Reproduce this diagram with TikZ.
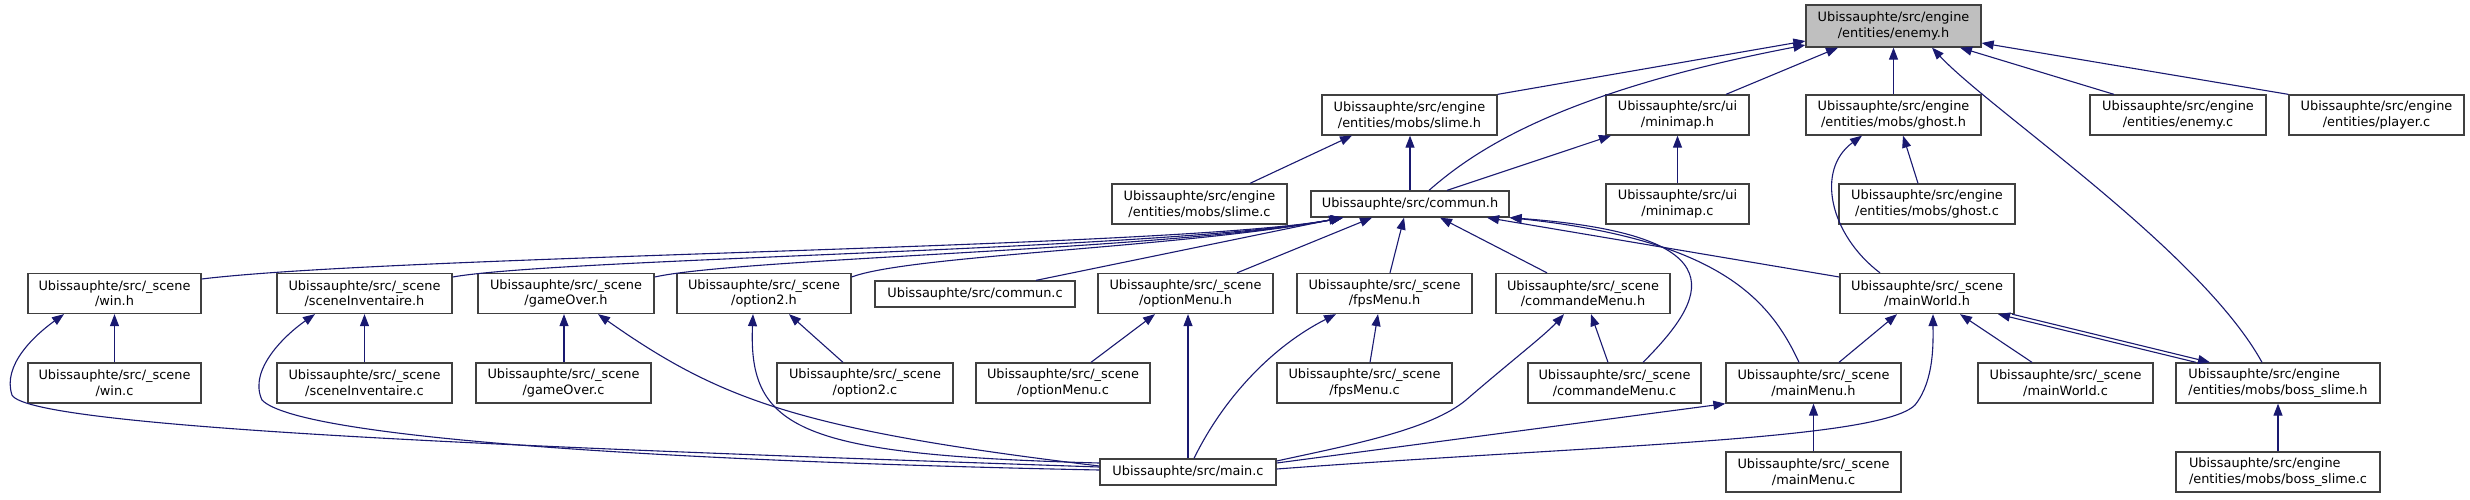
\documentclass[tikz,border=0pt]{standalone}
\usepackage{fontspec}
\setmainfont{DejaVu Sans}
\usetikzlibrary{arrows.meta}
\definecolor{edgeblue}{HTML}{191970}
\definecolor{nodegray}{HTML}{BFBFBF}
\begin{document}
\begin{tikzpicture}[x=1pt,y=-1pt,
  box/.style={draw=black!75, line width=1.3pt, fill=white, rectangle, inner sep=0pt,
    align=center, minimum height=40pt, minimum width=175pt,
    font=\fontsize{12.9}{15.5}\selectfont},
  lbox/.style={box, align=left},
  sbox/.style={box, minimum height=26pt},
  link/.style={draw=edgeblue, line width=1.1pt, -{Triangle[length=12pt,width=9pt]}}]
\useasboundingbox (0,0) rectangle (2470,499);
% row 1
\node[box, fill=nodegray, minimum height=42pt] (enemyh) at (1893.5,26) {Ubissauphte/src/engine\\/entities/enemy.h};
% row 2
\node[box] (slimeh) at (1409.5,115) {Ubissauphte/src/engine\\/entities/mobs/slime.h};
\node[box, minimum width=143pt] (minimaph) at (1677.5,115) {Ubissauphte/src/ui\\/minimap.h};
\node[box] (ghosth) at (1893.5,115) {Ubissauphte/src/engine\\/entities/mobs/ghost.h};
\node[box, minimum width=176pt] (enemyc) at (2178,115) {Ubissauphte/src/engine\\/entities/enemy.c};
\node[box] (playerc) at (2376.5,115) {Ubissauphte/src/engine\\/entities/player.c};
% row 3
\node[box] (slimec) at (1199.5,204) {Ubissauphte/src/engine\\/entities/mobs/slime.c};
\node[sbox, minimum width=198pt] (communh) at (1410,204) {Ubissauphte/src/commun.h};
\node[box, minimum width=143pt] (minimapc) at (1677.5,204) {Ubissauphte/src/ui\\/minimap.c};
\node[box, minimum width=176pt] (ghostc) at (1927,204) {Ubissauphte/src/engine\\/entities/mobs/ghost.c};
% row 4
\node[box, minimum width=173pt] (winh) at (114.5,293.5) {Ubissauphte/src/\_scene\\/win.h};
\node[box] (sceneinvh) at (364.5,293.5) {Ubissauphte/src/\_scene\\/sceneInventaire.h};
\node[box, minimum width=176pt] (gameoverh) at (566,293.5) {Ubissauphte/src/\_scene\\/gameOver.h};
\node[box, minimum width=174pt] (option2h) at (764,293.5) {Ubissauphte/src/\_scene\\/option2.h};
\node[sbox, minimum width=200pt] (communc) at (975,294) {Ubissauphte/src/commun.c};
\node[box] (optionmenuh) at (1185.5,293.5) {Ubissauphte/src/\_scene\\/optionMenu.h};
\node[box] (fpsmenuh) at (1384.5,293.5) {Ubissauphte/src/\_scene\\/fpsMenu.h};
\node[box, minimum width=174pt] (commandemenuh) at (1583,293.5) {Ubissauphte/src/\_scene\\/commandeMenu.h};
\node[box, minimum width=174pt] (mainworldh) at (1927,293.5) {Ubissauphte/src/\_scene\\/mainWorld.h};
% row 5
\node[box, minimum width=173pt] (winc) at (114.5,383) {Ubissauphte/src/\_scene\\/win.c};
\node[box] (sceneinvc) at (364.5,383) {Ubissauphte/src/\_scene\\/sceneInventaire.c};
\node[box] (gameoverc) at (563.5,383) {Ubissauphte/src/\_scene\\/gameOver.c};
\node[box, minimum width=176pt] (option2c) at (865,383) {Ubissauphte/src/\_scene\\/option2.c};
\node[box, minimum width=174pt] (optionmenuc) at (1063,383) {Ubissauphte/src/\_scene\\/optionMenu.c};
\node[box] (fpsmenuc) at (1364.5,383) {Ubissauphte/src/\_scene\\/fpsMenu.c};
\node[box, minimum width=173pt] (commandemenuc) at (1614.5,383) {Ubissauphte/src/\_scene\\/commandeMenu.c};
\node[box] (mainmenuh) at (1813.5,383) {Ubissauphte/src/\_scene\\/mainMenu.h};
\node[box] (mainworldc) at (2065.5,383) {Ubissauphte/src/\_scene\\/mainWorld.c};
\node[lbox, minimum width=204pt] (bossslimeh) at (2278,383) {Ubissauphte/src/engine\\/entities/mobs/boss\_slime.h};
% row 6
\node[sbox, minimum width=176pt] (mainc) at (1188,472) {Ubissauphte/src/main.c};
\node[box] (mainmenuc) at (1813.5,472) {Ubissauphte/src/\_scene\\/mainMenu.c};
\node[lbox, minimum width=204pt] (bossslimec) at (2278,472) {Ubissauphte/src/engine\\/entities/mobs/boss\_slime.c};

% edges into enemy.h
\draw[link] (slimeh.north east) -- (enemyh.west |- 0,41);
\draw[link] (communh.north -| 1429,0) .. controls (1475,150) and (1560,92) .. (enemyh.west |- 0,45);
\draw[link] (minimaph.north -| 1726,0) -- (enemyh.south -| 1838,0);
\draw[link] (ghosth.north) -- (enemyh.south);
\draw[link] (enemyc.north -| 2114,0) -- (enemyh.south -| 1960,0);
\draw[link] (playerc.north west) -- (enemyh.east |- 0,43);
\draw[link] (bossslimeh.north -| 2262,0) .. controls (2200,250) and (1990,110) .. (enemyh.south -| 1932,0);
% slime.h, minimap.h, ghost.h
\draw[link] (slimec.north -| 1250,0) -- (slimeh.south -| 1352,0);
\draw[link] (communh.north) -- (slimeh.south -| 1410,0);
\draw[link] (communh.north -| 1447,0) -- (minimaph.south -| 1611,0);
\draw[link] (minimapc.north) -- (minimaph.south);
\draw[link] (ghostc.north -| 1918,0) -- (ghosth.south -| 1903,0);
\draw[link] (mainworldh.north -| 1880,0) .. controls (1830,235) and (1815,170) .. (ghosth.south -| 1862,0);
% into commun.h
\draw[link] (winh.east |- 0,279) .. controls (400,255) and (1180,248) .. (communh.south -| 1343,0);
\draw[link] (sceneinvh.east |- 0,277) .. controls (560,258) and (1170,250) .. (communh.south -| 1343,0);
\draw[link] (gameoverh.east |- 0,277) .. controls (740,258) and (1170,250) .. (communh.south -| 1343,0);
\draw[link] (option2h.east |- 0,277) .. controls (910,255) and (1180,248) .. (communh.south -| 1343,0);
\draw[link] (communc.north -| 1036,0) -- (communh.south -| 1341,0);
\draw[link] (optionmenuh.north -| 1237,0) -- (communh.south -| 1372,0);
\draw[link] (fpsmenuh.north -| 1390,0) -- (communh.south -| 1404,0);
\draw[link] (commandemenuh.north -| 1547,0) -- (communh.south -| 1440,0);
\draw[link] (mainworldh.west |- 0,277) -- (communh.south -| 1487,0);
\draw[link] (commandemenuc.north -| 1643,0) .. controls (1705,300) and (1745,235) .. (communh.south east);
\draw[link] (mainmenuh.north -| 1799,0) .. controls (1770,300) and (1720,240) .. (communh.south east);
% row 4 parents
\draw[link] (winc.north) -- (winh.south);
\draw[link] (mainc.west |- 0,467) .. controls (600,450) and (30,430) .. (12,395) .. controls (2,365) and (35,335) .. (winh.south -| 64,0);
\draw[link] (sceneinvc.north) -- (sceneinvh.south);
\draw[link] (mainc.west |- 0,470) .. controls (700,462) and (300,440) .. (262,400) .. controls (248,370) and (285,335) .. (sceneinvh.south -| 315,0);
\draw[link] (gameoverc.north -| 564,0) -- (gameoverh.south -| 564,0);
\draw[link] (mainc.west |- 0,466) .. controls (800,430) and (720,400) .. (gameoverh.south -| 598,0);
\draw[link] (option2c.north -| 843,0) -- (option2h.south -| 789,0);
\draw[link] (mainc.west |- 0,463) .. controls (800,455) and (748,430) .. (option2h.south -| 753,0);
\draw[link] (optionmenuc.north -| 1091,0) -- (optionmenuh.south -| 1155,0);
\draw[link] (mainc.north) -- (optionmenuh.south -| 1188,0);
\draw[link] (fpsmenuc.north -| 1370,0) -- (fpsmenuh.south -| 1378,0);
\draw[link] (mainc.north -| 1194,0) .. controls (1225,395) and (1275,345) .. (fpsmenuh.south -| 1336,0);
\draw[link] (commandemenuc.north -| 1608,0) -- (commandemenuh.south -| 1591,0);
\draw[link] (mainc.east |- 0,461) .. controls (1350,445) and (1430,430) .. (1466,400) .. controls (1510,362) and (1545,335) .. (commandemenuh.south -| 1564,0);
\draw[link] (mainmenuc.north) -- (mainmenuh.south);
\draw[link] (mainc.east |- 0,463) -- (mainmenuh.south west);
\draw[link] (mainmenuh.north -| 1839,0) -- (mainworldh.south -| 1897,0);
\draw[link] (mainworldc.north -| 2032,0) -- (mainworldh.south -| 1960,0);
\draw[link] (mainc.east |- 0,469) .. controls (1600,445) and (1880,440) .. (1915,405) .. controls (1935,380) and (1933,340) .. (mainworldh.south -| 1933,0);
\draw[link] (bossslimeh.north -| 2196,0) -- (mainworldh.south -| 1998,0);
\draw[link] (mainworldh.south -| 2012,0) -- (bossslimeh.north -| 2210,0);
\draw[link] (bossslimec.north) -- (bossslimeh.south);
\end{tikzpicture}
\end{document}
